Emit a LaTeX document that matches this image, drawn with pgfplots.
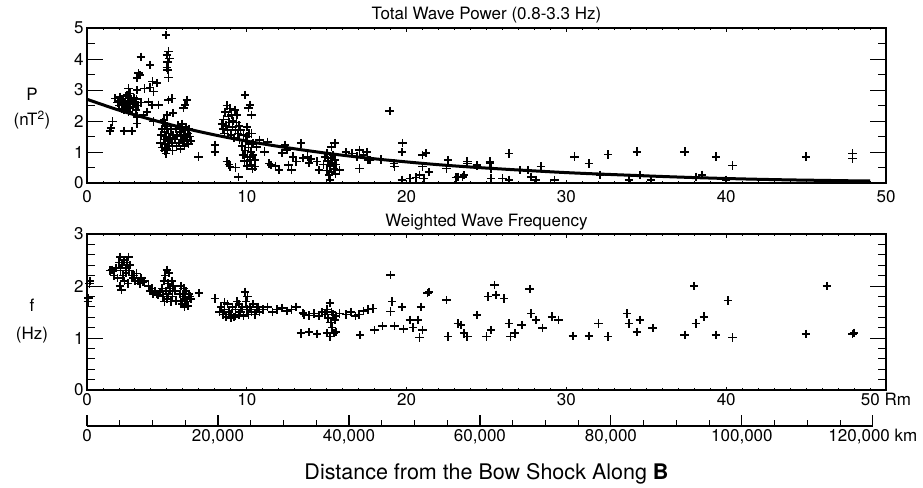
\documentclass[border=0pt]{standalone}
\usepackage{pgfplots}
\pgfplotsset{compat=1.18}
\usepackage{fontspec}
\setmainfont{TeX Gyre Heros}
\newcommand\fs{\fontsize{17}{20}\selectfont}
\newcommand\fl{\fontsize{21.5}{24}\selectfont}
\pgfplotsset{
  base/.style={scale only axis, width=799pt, xmin=0, xmax=50, clip=false,
    axis line style={line width=1.2pt}, tick align=inside,
    xtick pos=both, ytick pos=both, xticklabel pos=lower, yticklabel pos=left,
    every tick label/.append style={font=\fs},
    major tick style={line width=0.9pt, black}, minor tick style={line width=0.9pt, black},
    every axis title shift=0pt, title style={font=\fs, anchor=base},
    label style={font=\fs}},
  yaxis/.style={base, xtick=\empty, minor x tick num=0, major tick length=16pt, minor tick length=8pt},
  xaxis/.style={base, ytick=\empty, minor y tick num=0, xtick={0,10,20,30,40,50}, minor x tick num=9,
    major tick length=3.5pt, minor tick length=2pt},
  pts/.style={only marks, mark=+, mark size=4.2pt, black, mark options={line width=1.7pt}}
}
\begin{document}
\begin{tikzpicture}
\path[use as bounding box] (0pt,0pt) rectangle (923pt,-487pt);
% ---------------- top panel ----------------
\begin{axis}[yaxis, at={(87pt,-183pt)}, anchor=south west, height=155pt, ymin=0, ymax=5,
  ytick={0,1,2,3,4,5}, yticklabels={0,1,2,3,4,5}, minor y tick num=1,
  title={Total Wave Power (0.8-3.3 Hz)}, title style={at={(axis description cs:0.5,1.058)}},
  ylabel={P\\[5pt](nT\textsuperscript{2})},
  ylabel style={at={(axis description cs:-0.0688,0.48)}, rotate=-90, anchor=center, align=center}]
\addplot[pts] coordinates {
(1.45,1.68)(1.5,1.78)(1.6,1.98)(1.77,2.73)(1.9,2.6)(2.0,2.5)(2.05,2.78)(2.1,2.65)(2.15,2.4)(2.2,2.7)
(2.25,2.55)(2.3,2.35)(2.3,1.68)(2.35,2.62)(2.4,2.8)(2.45,2.5)(2.5,2.84)(2.5,2.45)(2.55,2.65)(2.6,3.05)
(2.6,2.3)(2.65,2.55)(2.7,2.89)(2.7,2.4)(2.75,2.7)(2.8,1.68)(2.85,2.6)(2.9,2.45)(2.95,2.75)(3.0,2.55)
(3.05,2.35)(3.1,2.7)(3.13,3.0)(3.13,2.14)(3.13,1.92)(3.2,2.5)(3.3,3.48)(3.37,4.07)(3.13,3.38)(3.23,3.54)
(3.4,2.6)(3.54,2.19)(3.6,3.05)(3.75,2.3)(3.85,2.62)(3.96,3.81)(3.96,3.08)(4.06,2.52)(4.1,3.27)(4.17,2.95)
(4.17,1.98)(4.37,3.22)(4.48,2.52)
(4.6,1.3)(4.65,1.55)(4.7,1.75)(4.7,1.15)(4.75,1.95)(4.8,2.03)(4.8,1.4)(4.85,1.05)(4.85,1.65)(4.9,1.92)
(4.9,1.25)(4.95,0.95)(4.95,1.5)(5.0,1.82)(5.0,2.19)(5.0,1.1)(5.05,1.35)(5.1,1.6)(5.1,2.68)(5.15,1.2)
(5.2,1.45)(5.25,1.75)(5.3,2.73)(5.3,1.3)(5.35,1.05)(5.4,2.25)(5.4,1.55)(4.94,4.77)(5.1,4.24)(5.0,4.13)
(5.17,4.02)(5.0,3.73)(5.1,3.4)(5.05,3.9)(5.05,3.65)
(5.5,1.4)(5.55,1.75)(5.6,1.2)(5.65,1.55)(5.7,1.85)(5.75,1.3)(5.8,1.65)(5.85,1.1)(5.9,1.5)(5.95,1.9)
(6.0,1.35)(6.04,2.41)(6.05,1.7)(6.1,1.2)(6.15,2.52)(6.15,1.55)(6.2,1.8)(6.25,2.68)(6.25,1.4)(6.3,1.6)
(6.35,1.25)(6.4,1.75)(6.45,1.5)(6.5,1.35)
(6.98,0.85)(8.0,1.23)(8.0,1.01)
(8.45,1.9)(8.5,1.75)(8.55,2.05)(8.6,1.6)(8.65,2.3)(8.7,1.85)(8.75,2.5)(8.8,1.7)(8.85,2.15)(8.9,1.95)
(8.95,2.4)(9.0,1.55)(9.05,2.2)(9.1,1.8)(9.15,2.0)(9.2,1.45)(9.25,2.35)(9.3,1.7)(9.35,1.95)(9.4,2.2)
(9.45,1.6)(9.5,1.85)(9.55,1.4)(9.6,1.7)(8.75,0.69)(8.96,0.53)(9.48,0.2)(8.9,0.6)(9.3,0.5)
(9.7,1.2)(9.75,0.9)(9.8,1.55)(9.85,0.7)(9.9,2.84)(9.9,1.05)(9.95,1.35)(10.0,0.55)(10.0,1.8)(10.05,0.85)
(10.1,2.41)(10.1,1.15)(10.15,1.6)(10.2,2.52)(10.2,0.75)(10.25,1.0)(10.3,2.19)(10.3,1.25)(10.3,0.58)(10.35,0.45)
(10.4,1.28)(10.4,0.9)(10.5,0.74)(10.5,0.53)(10.6,1.17)(10.8,1.39)(10.3,1.6)(10.0,1.5)
(11.1,1.01)(11.3,1.33)(11.4,0.63)(11.5,0.58)(11.8,0.55)(12.0,0.42)(12.2,0.96)(12.4,1.22)(12.5,1.06)(12.6,0.58)
(12.8,0.42)(12.9,0.85)(13.1,0.69)(13.4,1.28)(13.5,0.8)(13.8,0.85)(13.9,0.64)(14.0,0.78)(14.4,0.69)(14.5,0.42)
(14.8,0.6)(14.9,0.85)(15.0,0.4)(15.0,0.95)(15.1,0.7)(15.15,0.25)(15.2,0.55)(15.2,0.1)(15.25,0.8)(15.3,1.17)
(15.3,0.35)(15.35,0.65)(15.4,0.9)(15.45,0.45)(15.5,1.28)(15.5,0.75)(15.55,0.3)(15.6,0.6)(15.8,0.42)(16.2,0.99)
(16.6,0.95)(16.9,0.85)(17.05,1.06)(17.05,0.47)(17.3,0.9)(17.5,1.0)(17.6,0.74)(17.7,0.74)(18.4,0.76)(18.94,2.33)
(19.2,0.63)(19.25,0.53)(19.7,1.0)(19.75,1.29)(19.7,0.1)(20.2,0.15)(20.6,0.18)(20.8,0.26)(21.0,0.53)(21.0,0.9)
(21.1,0.15)(21.2,0.96)(21.4,0.36)(22.5,0.47)(22.6,0.74)(23.1,0.18)(23.2,0.2)(23.5,0.2)(23.6,0.25)(23.8,0.69)
(23.8,0.63)(24.4,0.55)(24.4,0.58)(25.2,0.64)(25.2,0.69)(25.3,0.47)(25.3,0.15)(26.0,0.15)(26.4,0.1)(26.4,0.95)
(27.1,0.42)(27.6,0.42)(27.8,0.2)(28.1,0.1)(28.4,0.53)(29.25,0.1)(30.5,0.85)(31.4,0.63)(32.1,0.26)(32.6,0.92)
(33.9,0.1)(34.4,1.01)(34.6,0.26)(35.3,0.1)(37.4,1.01)(38.1,0.2)(38.5,0.26)(39.36,0.85)(40.0,0.1)(40.4,0.56)
(45.0,0.85)(47.9,0.95)(47.9,0.79)
};
\addplot[black, line width=3pt, smooth] coordinates {
(0,2.70)(2,2.35)(4,2.05)(6,1.78)(8,1.55)(10,1.35)(12,1.18)(14,1.03)(16,0.895)(18,0.78)
(20,0.68)(22,0.59)(24,0.515)(26,0.45)(28,0.39)(30,0.335)(32,0.29)(34,0.25)(36,0.21)(38,0.175)
(40,0.145)(42,0.12)(44,0.10)(46,0.085)(48,0.07)(49,0.065)
};
\end{axis}
\begin{axis}[xaxis, at={(87pt,-183pt)}, anchor=south west, height=155pt, ymin=0, ymax=5,
  xticklabels={0,10,20,30,40,50}, xticklabel style={yshift=-4pt}]
\end{axis}
% ---------------- bottom panel ----------------
\begin{axis}[yaxis, at={(87pt,-390pt)}, anchor=south west, height=156pt, ymin=0, ymax=3,
  ytick={0,1,2,3}, yticklabels={0,1,2,3}, minor y tick num=4,
  title={Weighted Wave Frequency}, title style={at={(axis description cs:0.5,1.045)}},
  ylabel={f\\[8pt](Hz)},
  ylabel style={at={(axis description cs:-0.0688,0.44)}, rotate=-90, anchor=center, align=center},
  xlabel={Distance from the Bow Shock Along \textbf{B}},
  xlabel style={at={(axis description cs:0.5,-0.5705)}, anchor=base, font=\fl}]
\addplot[pts] coordinates {
(0.05,1.7)(0.1,1.77)(0.15,2.05)(0.2,2.1)
(1.45,2.3)(1.55,2.31)(1.7,2.2)(1.8,2.35)(1.9,2.15)(2.0,2.45)(2.05,2.0)(2.08,2.56)(2.1,2.3)(2.15,1.92)
(2.2,2.4)(2.25,2.2)(2.3,2.5)(2.35,2.1)(2.4,2.35)(2.45,2.25)(2.5,2.45)(2.55,2.05)(2.6,2.56)(2.65,2.3)
(2.7,2.4)(2.8,2.2)(2.9,2.15)
(2.95,2.2)(3.0,2.1)(3.1,2.24)(3.2,2.1)(3.3,2.05)(3.4,2.15)(3.5,2.08)(3.6,2.1)
(3.85,2.0)(3.95,1.9)(4.05,1.95)(4.15,1.85)(4.25,1.9)(4.35,1.85)(4.45,1.83)(4.55,1.88)
(4.7,1.95)(4.75,1.8)(4.8,2.1)(4.85,1.7)(4.9,2.2)(4.95,1.9)(5.0,2.31)(5.0,1.75)(5.05,2.05)(5.1,1.85)
(5.15,2.25)(5.2,1.95)(5.25,1.7)(5.3,2.1)(5.35,1.8)(5.4,2.0)(5.5,1.9)(5.55,1.72)
(5.8,1.85)(5.85,1.7)(5.9,2.0)(5.95,1.65)(6.0,1.8)(6.05,1.95)(6.1,1.6)(6.15,1.75)(6.2,1.9)(6.25,1.7)
(6.3,1.62)(6.35,1.85)(6.45,1.8)(6.5,1.75)
(7.0,1.86)(8.0,1.76)
(8.3,1.5)(8.4,1.6)(8.5,1.45)(8.6,1.55)(8.7,1.4)(8.8,1.65)(8.9,1.5)(9.0,1.45)(9.1,1.6)(9.2,1.4)
(9.3,1.55)(9.4,1.7)(9.5,1.45)(9.6,1.5)(9.7,1.6)(9.8,1.42)(9.9,1.89)(9.95,1.7)(10.0,1.55)(10.05,1.8)
(10.1,1.45)(10.2,1.6)(10.3,1.5)(10.4,1.65)(10.5,1.45)(10.6,1.55)(10.7,1.6)(10.8,1.5)(9.0,1.38)(9.5,1.65)
(8.6,1.68)(9.3,1.42)
(11.0,1.55)(11.3,1.6)(11.6,1.5)(11.9,1.55)(12.2,1.58)(12.5,1.52)(12.8,1.55)(13.1,1.6)(13.5,1.48)
(13.6,1.45)(13.9,1.43)(14.2,1.47)(14.5,1.42)(14.7,1.5)(14.9,1.45)(15.0,1.55)(15.1,1.38)(15.2,1.67)(15.25,1.3)
(15.3,1.5)(15.35,1.2)(15.4,1.45)(15.45,1.1)(15.5,1.35)(15.2,1.03)(15.6,1.42)(15.8,1.47)(16.2,1.45)(16.5,1.5)
(16.8,1.42)(17.0,1.45)(17.3,1.52)(17.6,1.55)(17.9,1.57)
(13.4,1.09)(13.9,1.11)(14.4,1.08)(15.0,1.1)(15.6,1.12)(17.1,1.06)(18.0,1.15)(18.5,1.23)
(19.0,2.21)(19.1,1.7)(19.7,1.6)(19.0,1.51)(19.25,1.23)(19.8,1.17)(20.2,1.35)(20.7,1.35)(20.4,1.2)(20.9,1.6)
(21.0,1.15)(20.8,1.01)(21.4,1.89)(21.3,1.86)
(22.5,1.73)(22.6,1.03)(23.2,1.28)(23.4,1.25)(23.6,1.09)(23.8,1.03)(24.4,1.44)(25.0,1.03)(25.1,1.8)(25.3,1.15)
(25.5,2.02)(25.6,1.83)(26.1,1.76)(26.4,1.28)(26.5,1.03)(26.8,1.09)(27.2,1.25)(27.7,1.94)(27.8,1.47)(28.1,1.35)
(28.5,1.19)(29.1,1.41)(29.5,1.35)(30.4,1.04)(31.4,1.04)(32.0,1.28)(32.6,1.03)(33.8,1.47)(33.9,1.28)(34.4,1.12)
(34.6,1.35)(35.4,1.19)(37.4,1.06)(38.0,2.0)(38.1,1.28)(38.6,1.41)(39.35,1.06)(40.1,1.72)(40.4,1.01)(45.0,1.08)
(46.3,2.0)(47.9,1.08)(48.0,1.1)
};
\end{axis}
\begin{axis}[xaxis, at={(87pt,-390pt)}, anchor=south west, height=156pt, ymin=0, ymax=3,
  xticklabels={0,10,20,30,40,50 Rm}]
\end{axis}
% ---------------- km scale ----------------
\begin{axis}[at={(87pt,-426pt)}, anchor=south west, scale only axis, width=785.9pt, height=10pt,
  xmin=0, xmax=120000, ymin=0, ymax=1, axis x line=bottom, hide y axis,
  x axis line style={-, line width=1.2pt}, tick align=inside, scaled x ticks=false,
  xtick={0,20000,40000,60000,80000,100000,120000},
  xticklabels={0,{20,000},{40,000},{60,000},{80,000},{100,000},{120,000 km}},
  minor x tick num=3, major tick length=11pt, minor tick length=6pt,
  major tick style={line width=1.1pt, black}, minor tick style={line width=0.9pt, black},
  every tick label/.append style={font=\fs}]
\end{axis}
\end{tikzpicture}
\end{document}
